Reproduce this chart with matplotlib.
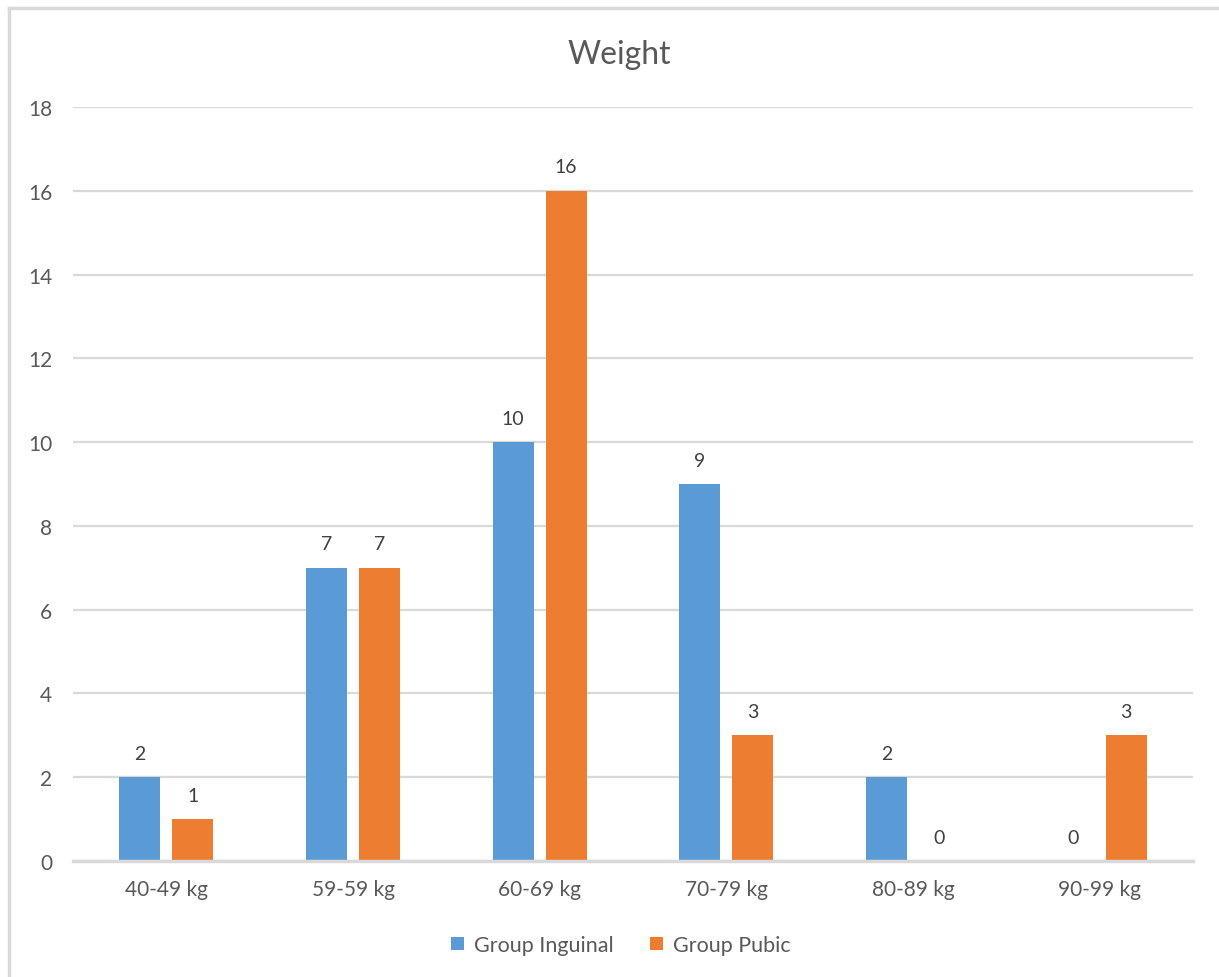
import matplotlib
matplotlib.use("Agg")
import matplotlib.pyplot as plt
import numpy as np
from matplotlib.lines import Line2D

categories = ["40-49 kg", "59-59 kg", "60-69 kg", "70-79 kg", "80-89 kg", "90-99 kg"]
series_names = ["Group Inguinal", "Group Pubic"]
inguinal = [2, 7, 10, 9, 2, 0]
pubic = [1, 7, 16, 3, 0, 3]
y_ticks = [0, 2, 4, 6, 8, 10, 12, 14, 16, 18]

colors = ["#5B9BD5", "#ED7D31"]
text_color = "#595959"
grid_color = "#D9D9D9"

plt.rcParams["font.family"] = ["Lato", "DejaVu Sans"]

W, H = 1219, 978
fig = plt.figure(figsize=(W / 100, H / 100), dpi=100)
ax = fig.add_axes([73 / W, 1 - 862 / H, (1193 - 73) / W, (862 - 108) / H])

x = np.arange(len(categories))
bw = 0.22
off = 0.142
bars = []
for i, (vals, c) in enumerate(zip([inguinal, pubic], colors)):
    pos = x + (-off if i == 0 else off)
    b = ax.bar(pos, vals, width=bw, color=c, zorder=3, label=series_names[i])
    bars.append(b)
    for xp, v in zip(pos, vals):
        ax.annotate(str(v), (xp, v), xytext=(0, 11), textcoords="offset points",
                    ha="center", va="bottom", fontsize=14, color="#404040")

ax.set_xlim(-0.5, len(categories) - 0.5)
ax.set_ylim(0, 18)
ax.set_yticks(y_ticks)
ax.set_xticks(x)
ax.set_xticklabels(categories)
ax.yaxis.grid(True, color=grid_color, linewidth=1.6, zorder=0)
ax.set_axisbelow(True)
for s in ["top", "right", "left"]:
    ax.spines[s].set_visible(False)
ax.spines["bottom"].set_color(grid_color)
ax.spines["bottom"].set_linewidth(2.5)
ax.spines["bottom"].set_zorder(4)
ax.tick_params(axis="both", length=0, labelsize=15, colors=text_color)
ax.tick_params(axis="y", pad=15)
ax.tick_params(axis="x", pad=13)

fig.text(619 / W, 1 - 55 / H, "Weight", ha="center", va="center",
         fontsize=23, color=text_color)

leg = fig.legend(handles=bars, labels=series_names, loc="center",
                 bbox_to_anchor=(621 / W, 1 - 946 / H), ncol=2, frameon=False,
                 fontsize=15.5, handlelength=0.6, handleheight=0.6,
                 columnspacing=1.7, handletextpad=0.45)
for t in leg.get_texts():
    t.set_color(text_color)

# chart border: top and left edges
bx, by = 9 / W, 1 - 9 / H
fig.add_artist(Line2D([bx, 1.0], [by, by], transform=fig.transFigure,
                      color=grid_color, linewidth=2.5))
fig.add_artist(Line2D([bx, bx], [0.0, by], transform=fig.transFigure,
                      color=grid_color, linewidth=2.5))

fig.savefig("out.png", dpi=100, facecolor="white")
